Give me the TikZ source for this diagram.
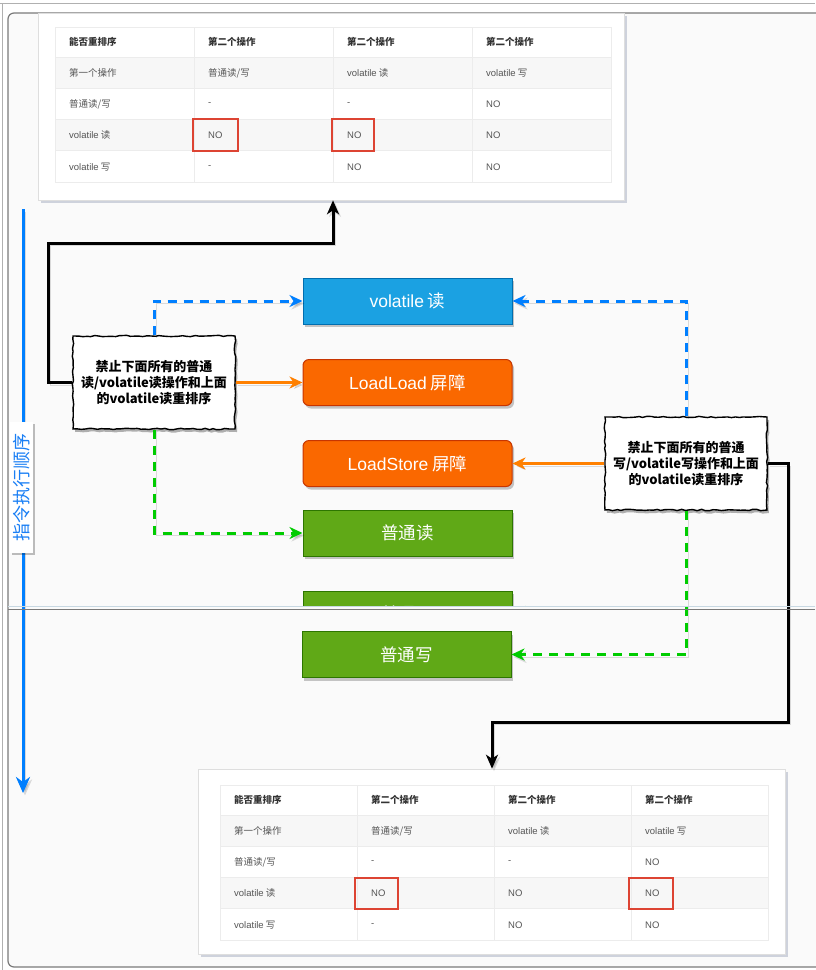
\documentclass[tikz,border=0pt]{standalone}
\usepackage{fontspec}
\setmainfont{Noto Sans CJK SC}
\newfontfamily\latf{Liberation Sans}
\usetikzlibrary{arrows.meta,shadows,decorations.pathmorphing}
\definecolor{bgc}{HTML}{FAFAFA}
\definecolor{framec}{HTML}{7A7A7A}
\definecolor{outerc}{HTML}{B0B0B0}
\definecolor{seamc}{HTML}{C8D8E2}
\definecolor{rowg}{HTML}{F7F7F7}
\definecolor{gridc}{HTML}{ECECEC}
\definecolor{cardc}{HTML}{DEDEDE}
\definecolor{shc}{HTML}{9AA2B8}
\definecolor{txh}{HTML}{333333}
\definecolor{txr}{HTML}{555555}
\definecolor{redc}{HTML}{DD4433}
\definecolor{vblue}{HTML}{1BA1E2}
\definecolor{vblueb}{HTML}{006EAF}
\definecolor{orf}{HTML}{FA6800}
\definecolor{orb}{HTML}{C73500}
\definecolor{grf}{HTML}{60A917}
\definecolor{grb}{HTML}{2D7600}
\definecolor{dblue}{HTML}{007FFF}
\definecolor{oline}{HTML}{FF8000}
\definecolor{gline}{HTML}{00CC00}
\definecolor{tlblue}{HTML}{1A7FF5}
\newcommand\lf[1]{{\latf #1}}
\newcommand\vtable[4]{%
\begin{scope}[shift={(#2,#3)}]
 \fill[white] (0,0) rectangle ({4*#4},155);
 \fill[rowg] (0,30) rectangle ({4*#4},61);
 \fill[rowg] (0,92) rectangle ({4*#4},123);
 \foreach \yy in {30,61,92,123} \draw[gridc, line width=0.8pt] (0,\yy) -- ({4*#4},\yy);
 \foreach \cc in {1,2,3} \draw[gridc, line width=0.8pt] ({\cc*#4},0) -- ({\cc*#4},155);
 \draw[gridc, line width=0.8pt] (0,0) rectangle ({4*#4},155);
 \node[cellh] (#1a0) at (14,15) {能否重排序};
 \node[cellh] (#1a1) at ({#4+14},15) {第二个操作};
 \node[cellh] (#1a2) at ({2*#4+14},15) {第二个操作};
 \node[cellh] (#1a3) at ({3*#4+14},15) {第二个操作};
 \node[cellt] (#1b0) at (14,46) {第一个操作};
 \node[cellt] (#1b1) at ({#4+14},46) {普通读/写};
 \node[cellt] (#1b2) at ({2*#4+14},46) {\lf{volatile} 读};
 \node[cellt] (#1b3) at ({3*#4+14},46) {\lf{volatile} 写};
 \node[cellt] (#1c0) at (14,77) {普通读/写};
 \node[cellt] (#1c1) at ({#4+14},77) {\lf{-}};
 \node[cellt] (#1c2) at ({2*#4+14},77) {\lf{-}};
 \node[cellt] (#1c3) at ({3*#4+14},77) {\lf{NO}};
 \node[cellt] (#1d0) at (14,108) {\lf{volatile} 读};
 \node[cellt] (#1d1) at ({#4+14},108) {\lf{NO}};
 \node[cellt] (#1d2) at ({2*#4+14},108) {\lf{NO}};
 \node[cellt] (#1d3) at ({3*#4+14},108) {\lf{NO}};
 \node[cellt] (#1e0) at (14,140) {\lf{volatile} 写};
 \node[cellt] (#1e1) at ({#4+14},140) {\lf{-}};
 \node[cellt] (#1e2) at ({2*#4+14},140) {\lf{NO}};
 \node[cellt] (#1e3) at ({3*#4+14},140) {\lf{NO}};
\end{scope}}
\begin{document}
\begin{tikzpicture}[x=1pt,y=-1pt,
  cellt/.style={anchor=west, inner sep=0pt, text=txr, font=\fontsize{9.5}{11}\selectfont},
  cellh/.style={anchor=west, inner sep=0pt, text=txh, font=\bfseries\fontsize{9.5}{11}\selectfont},
  card/.style={fill=white, draw=cardc, line width=0.6pt, inner sep=0pt,
     drop shadow={shadow xshift=2.5pt, shadow yshift=-3pt, opacity=0.45, fill=shc}},
  redbox/.style={draw=redc, line width=1.6pt},
  flowbox/.style={minimum width=209pt, minimum height=46pt, inner sep=0pt, text=white,
     font=\fontsize{17.5}{20}\selectfont, line width=1pt,
     drop shadow={shadow xshift=2pt, shadow yshift=-3pt, opacity=0.22, fill=black}},
  notebox/.style={draw=black, fill=white, line width=1.4pt, minimum width=162pt, minimum height=93pt,
     align=center, inner sep=2pt, font=\bfseries\fontsize{13}{16}\selectfont,
     decorate, decoration={random steps, segment length=4pt, amplitude=0.7pt},
     drop shadow={shadow xshift=2pt, shadow yshift=-3pt, opacity=0.3, fill=black}},
  lsh/.style={preaction={draw=black, opacity=0.13, transform canvas={shift={(2pt,-2.5pt)}}}},
  blk/.style={lsh, draw=black, line width=3pt, -{Stealth[length=14pt,width=12pt,inset=4pt]}},
  bdash/.style={lsh, draw=dblue, line width=3pt, dash pattern=on 9pt off 7pt, -{Stealth[length=13pt,width=12pt,inset=4pt]}},
  gdash/.style={lsh, draw=gline, line width=3pt, dash pattern=on 9pt off 7pt, -{Stealth[length=13pt,width=12pt,inset=4pt]}},
  orng/.style={lsh, draw=oline, line width=2.2pt, -{Stealth[length=13pt,width=12pt,inset=4pt]}},
  tl/.style={lsh, draw=dblue, line width=3pt, -{Stealth[length=16pt,width=14pt,inset=5pt]}},
  tlabel/.style={fill=white, text=tlblue, minimum width=131pt, minimum height=23pt, inner sep=0pt,
     font=\fontsize{18}{19}\selectfont,
     drop shadow={shadow xshift=1.5pt, shadow yshift=-2pt, opacity=0.25, fill=black}}
]
\useasboundingbox (0,0) rectangle (815,970);
% frame
\fill[white] (0,0) rectangle (815,970);
\draw[outerc, line width=1pt] (0,3) -- (815,3);
\draw[outerc, line width=1pt] (2,3) -- (2,970);
\fill[bgc, rounded corners=6pt] (8,13) rectangle (840,967);
\draw[framec, line width=1.2pt, rounded corners=6pt] (840,13) -- (8,13) -- (8,967) -- (840,967);
% cards and tables
\node[card, minimum width=586pt, minimum height=187pt] (card1) at (331,106.5) {};
\vtable{ta}{55}{27}{139}
\draw[redbox] (193,119) rectangle (238,151);
\draw[redbox] (332,119) rectangle (374,151);
\node[card, minimum width=587pt, minimum height=185pt] (card2) at (491.5,861.5) {};
\vtable{tb}{220}{785}{137}
\draw[redbox] (355,878) rectangle (398,909);
\draw[redbox] (629,878) rectangle (673,909);
% timeline
\coordinate (tlA) at (23,209);
\coordinate (tlB) at (23,793);
\draw[tl] (tlA) -- (tlB);
\node[tlabel, rotate=90] (tlab) at (21.5,487.5) {指令执行顺序};
% flow boxes
\node[flowbox, fill=vblue, draw=vblueb] (vread) at (407.5,301) {\lf{volatile} 读};
\node[flowbox, fill=orf, draw=orb, rounded corners=6pt] (lload) at (407.5,382.5) {\lf{LoadLoad} 屏障};
\node[flowbox, fill=orf, draw=orb, rounded corners=6pt] (lstore) at (407.5,463.5) {\lf{LoadStore} 屏障};
\node[flowbox, fill=grf, draw=grb] (pread) at (407.5,533) {普通读};
\begin{scope}
 \clip (0,0) rectangle (815,606);
 \node[flowbox, fill=grf, draw=grb] (pwriteA) at (407.5,614) {普通写};
 \coordinate (pwA) at (560,612);
 \draw[gdash] (pwA) -- (pwriteA.east |- pwA);
\end{scope}
\node[flowbox, fill=grf, draw=grb] (pwrite) at (406.5,654.5) {普通写};
% notes
\pgfmathsetseed{7}
\node[notebox] (noteL) at (154,382.5) {禁止下面所有的普通\\读/volatile读操作和上面\\的volatile读重排序};
\node[notebox] (noteR) at (686,463.5) {禁止下面所有的普通\\写/volatile写操作和上面\\的volatile读重排序};
% connectors
\coordinate (kA) at (48,243);
\coordinate (kB) at (333,0);
\draw[blk] (noteL.west) -| (kA) -| (card1.south -| kB);
\draw[bdash] (noteL.north) |- (vread.west);
\draw[orng] (noteL.east) -- (lload.west);
\draw[gdash] (noteL.south) |- (pread.west);
\coordinate (kC) at (788,722);
\coordinate (kD) at (492,0);
\draw[blk] (noteR.east) -| (kC) -| (card2.north -| kD);
\draw[bdash] (noteR.north) |- (vread.east);
\draw[orng] (noteR.west) -- (lstore.east);
\draw[gdash] (noteR.south) |- (pwrite.east);
% seam
\draw[seamc, line width=1.6pt] (8,606.5) -- (815,606.5);
\draw[framec, line width=1.6pt] (8,609.5) -- (815,609.5);
\end{tikzpicture}
\end{document}
